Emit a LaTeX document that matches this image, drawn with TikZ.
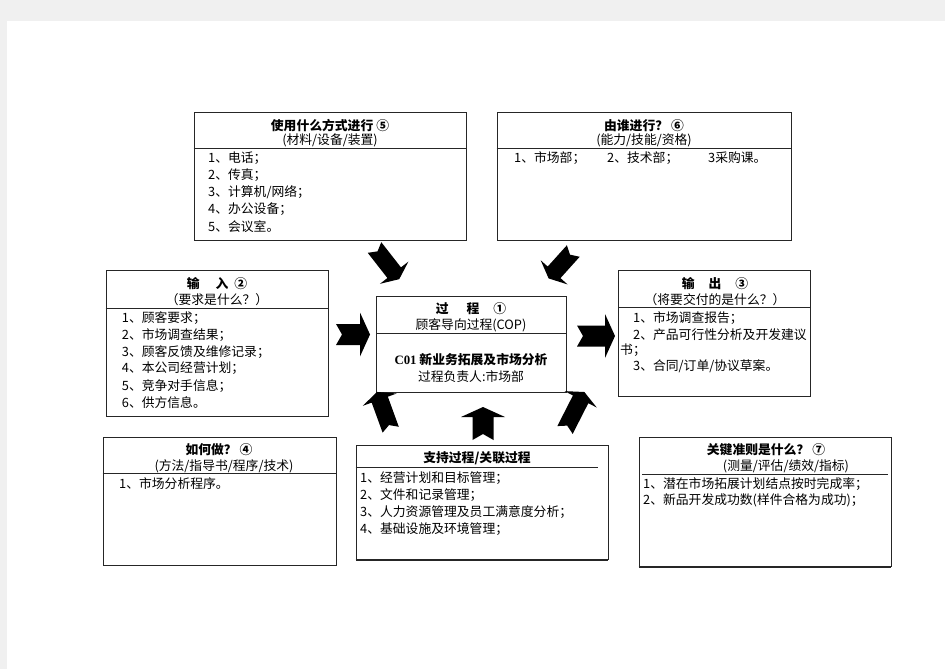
\documentclass[tikz,border=0pt]{standalone}
\usepackage{fontspec}
\setmainfont{Noto Sans CJK SC}
\newfontfamily\latinserif{Liberation Serif}
\begin{document}
\begin{tikzpicture}
[x=1pt,y=-1pt,%
  boxDecorate/.style={draw=black!85,line width=0.8pt,fill=white,inner sep=0pt},%
  headDecorate/.style={font=\fontsize{12.8}{15}\selectfont\bfseries,inner sep=0pt},%
  subDecorate/.style={font=\fontsize{12.8}{15}\selectfont,inner sep=0pt},%
  itemDecorate/.style={font=\fontsize{12.8}{15}\selectfont,inner sep=0pt,anchor=west},%
  notched/.pic={\fill (0,-10.5) -- (#1-10,-10.5) -- (#1-10,-22) -- (#1,0)
      -- (#1-10,22) -- (#1-10,10.5) -- (0,10.5) -- (6,0) -- cycle;}]
%% page
\fill[black!6] (0,0) rectangle (945,669);
\fill[white] (7,21) rectangle (945,669);
\useasboundingbox (0,0) rectangle (945,669);
%% boxes
\node (src) at (330,176) [boxDecorate,minimum width=272,minimum height=128] {};
\node (who) at (644,176) [boxDecorate,minimum width=294,minimum height=128] {};
\node (in) at (217.25,343.25) [boxDecorate,minimum width=222.5,minimum height=145.5] {};
\node (proc) at (471.25,344.5) [boxDecorate,minimum width=189.5,minimum height=96] {};
\node (out) at (714.25,333.5) [boxDecorate,minimum width=191.5,minimum height=126] {};
\node (how) at (219.5,501) [boxDecorate,minimum width=233,minimum height=128] {};
\node (sup) at (482,502.5) [boxDecorate,minimum width=252,minimum height=114] {};
\node (crit) at (765,501.75) [boxDecorate,minimum width=252,minimum height=129.5] {};
\draw[line width=1.6pt,black!85] (sup.south west) -- (sup.south east);
\draw[line width=1.6pt,black!85] (crit.south west) -- (crit.south east);
%% header rules
\draw[black!85,line width=0.8pt] (src.west |- 0,148.5) -- (src.east |- 0,148.5);
\draw[black!85,line width=0.8pt] (who.west |- 0,148.5) -- (who.east |- 0,148.5);
\draw[black!85,line width=0.8pt] (in.west |- 0,308) -- (in.east |- 0,308);
\draw[black!85,line width=0.8pt] (proc.west |- 0,333) -- (proc.east |- 0,333);
\draw[black!85,line width=0.8pt] (out.west |- 0,307.5) -- (out.east |- 0,307.5);
\draw[black!85,line width=0.8pt] (how.west |- 0,473.5) -- (how.east |- 0,473.5);
\draw[black!85,line width=0.8pt] (sup.west |- 0,467.5) -- (598,467.5);
\draw[black!85,line width=0.8pt] (642,474) -- (888,474);
%% box 5
\node (srchd) at (330,126) [headDecorate] {使用什么方式进行 ⑤};
\node (srcsub) at (330,140) [subDecorate] {(材料/设备/装置)};
\node (src1) at (208,157.7) [itemDecorate] {1、电话；};
\node (src2) at (208,175) [itemDecorate] {2、传真；};
\node (src3) at (208,192.3) [itemDecorate] {3、计算机/网络；};
\node (src4) at (208,209.5) [itemDecorate] {4、办公设备；};
\node (src5) at (208,226.7) [itemDecorate] {5、会议室。};
%% box 6
\node (whohd) at (644,125.5) [headDecorate] {由谁进行？ ⑥};
\node (whosub) at (644,140) [subDecorate] {(能力/技能/资格)};
\node (who1) at (514,158) [itemDecorate] {1、市场部；};
\node (who2) at (607,158) [itemDecorate] {2、技术部；};
\node (who3) at (708,158) [itemDecorate] {3采购课。};
%% box 2
\node (inhd) at (217,283.3) [headDecorate] {输\hspace{16pt}入\hspace{6pt}②};
\node (insub) at (217,300) [subDecorate] {（要求是什么？）};
\node (in1) at (121.7,317.7) [itemDecorate] {1、顾客要求；};
\node (in2) at (121.7,335) [itemDecorate] {2、市场调查结果；};
\node (in3) at (121.7,351.7) [itemDecorate] {3、顾客反馈及维修记录；};
\node (in4) at (121.7,368.3) [itemDecorate] {4、本公司经营计划；};
\node (in5) at (121.7,385.7) [itemDecorate] {5、竞争对手信息；};
\node (in6) at (121.7,402.7) [itemDecorate] {6、供方信息。};
%% box 1
\node (prochd) at (471,309) [headDecorate] {过\hspace{18pt}程\hspace{14pt}①};
\node (procsub) at (471,325.5) [subDecorate] {顾客导向过程(COP)};
\node (procname) at (471,360) [headDecorate] {{\latinserif C01} 新业务拓展及市场分析};
\node (procowner) at (471,376.7) [subDecorate] {过程负责人:市场部};
%% box 3
\node (outhd) at (715,283.3) [headDecorate] {输\hspace{14pt}出\hspace{14pt}③};
\node (outsub) at (715,300) [subDecorate] {（将要交付的是什么？）};
\node (out1) at (633,317.7) [itemDecorate] {1、市场调查报告；};
\node (out2) at (633,334.3) [itemDecorate] {2、产品可行性分析及开发建议};
\node (out2b) at (620,350) [itemDecorate] {书；};
\node (out3) at (633,366.7) [itemDecorate] {3、合同/订单/协议草案。};
%% box 4
\node (howhd) at (219,450) [headDecorate] {如何做？ ④};
\node (howsub) at (224,466.5) [subDecorate] {(方法/指导书/程序/技术)};
\node (how1) at (119,484) [itemDecorate] {1、市场分析程序。};
%% support box
\node (suphd) at (477,458) [headDecorate] {支持过程/关联过程};
\node (sup1) at (360,478.5) [itemDecorate] {1、经营计划和目标管理；};
\node (sup2) at (360,495) [itemDecorate] {2、文件和记录管理；};
\node (sup3) at (360,512) [itemDecorate] {3、人力资源管理及员工满意度分析；};
\node (sup4) at (360,529.5) [itemDecorate] {4、基础设施及环境管理；};
%% box 7
\node (crithd) at (766,450) [headDecorate] {关键准则是什么？ ⑦};
\node (critsub) at (786,466.5) [subDecorate] {(测量/评估/绩效/指标)};
\node (crit1) at (643,484.3) [itemDecorate] {1、潜在市场拓展计划结点按时完成率；};
\node (crit2) at (643,500) [itemDecorate] {2、新品开发成功数(样件合格为成功)；};
%% block arrows towards the process box
\pic at (336,334.5) {notched=34};
\pic at (577,336) {notched=38};
\pic[rotate=90] at (483,440) {notched=33};
\pic[rotate=-52,scale=.82] at (374.5,247.5) {notched=49};
\pic[rotate=-132,scale=.82] at (573.3,251) {notched=45};
\pic[rotate=110,scale=.82] at (390.7,429.7) {notched=49};
\pic[rotate=63,scale=.82] at (565,430) {notched=52};
\end{tikzpicture}
\end{document}
